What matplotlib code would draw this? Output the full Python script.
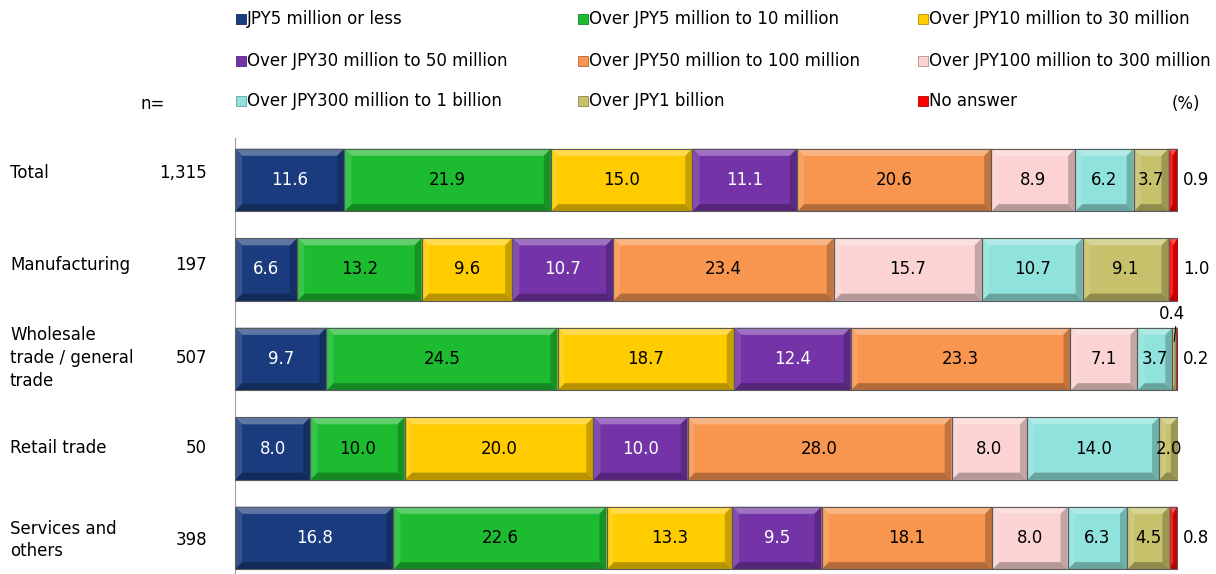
import matplotlib.pyplot as plt
import numpy as np
from matplotlib.colors import to_rgb
from matplotlib.patches import Polygon, Rectangle

# Sales bands (legend order) and respondent groups
bands = [
    "JPY5 million or less",
    "Over JPY5 million to 10 million",
    "Over JPY10 million to 30 million",
    "Over JPY30 million to 50 million",
    "Over JPY50 million to 100 million",
    "Over JPY100 million to 300 million",
    "Over JPY300 million to 1 billion",
    "Over JPY1 billion",
    "No answer",
]
groups = ["Total", "Manufacturing", "Wholesale\ntrade / general\ntrade",
          "Retail trade", "Services and\nothers"]
n_counts = ["1,315", "197", "507", "50", "398"]

total = [11.6, 21.9, 15.0, 11.1, 20.6, 8.9, 6.2, 3.7, 0.9]
manufacturing = [6.6, 13.2, 9.6, 10.7, 23.4, 15.7, 10.7, 9.1, 1.0]
wholesale = [9.7, 24.5, 18.7, 12.4, 23.3, 7.1, 3.7, 0.4, 0.2]
retail = [8.0, 10.0, 20.0, 10.0, 28.0, 8.0, 14.0, 2.0, 0.0]
services = [16.8, 22.6, 13.3, 9.5, 18.1, 8.0, 6.3, 4.5, 0.8]
shares = np.array([total, manufacturing, wholesale, retail, services])

colors = ["#1A3C7E", "#1DBB30", "#FFCC00", "#7434A8", "#F8954F",
          "#FBD3D3", "#90E3DC", "#C6C16A", "#FF0000"]
text_colors = ["white", "black", "black", "white", "black",
               "black", "black", "black", "black"]


def shade(c, f):
    r = np.array(to_rgb(c))
    if f >= 0:
        return tuple(r + (1 - r) * f)
    return tuple(r * (1 + f))


def bevel_bar(ax, left, width, yc, h, color):
    if width <= 0:
        return
    top, bot = yc - h / 2, yc + h / 2
    bx = min(0.75, width / 2)
    by = 0.08
    ax.add_patch(Rectangle((left, top), width, h, facecolor=color,
                           edgecolor="none", zorder=2))
    # top, bottom, left, right bevel faces
    faces = [
        ([(left, top), (left + width, top), (left + width - bx, top + by), (left + bx, top + by)], 0.3),
        ([(left, bot), (left + width, bot), (left + width - bx, bot - by), (left + bx, bot - by)], -0.28),
        ([(left, top), (left + bx, top + by), (left + bx, bot - by), (left, bot)], 0.12),
        ([(left + width, top), (left + width - bx, top + by), (left + width - bx, bot - by), (left + width, bot)], -0.22),
    ]
    for pts, f in faces:
        ax.add_patch(Polygon(pts, closed=True, facecolor=shade(color, f),
                             edgecolor="none", zorder=2))
    ax.add_patch(Rectangle((left, top), width, h, facecolor="none",
                           edgecolor="#5a5a5a", linewidth=0.8, zorder=3))


W, H = 1216, 574
fig = plt.figure(figsize=(W / 100, H / 100), dpi=100)
plt.rcParams["font.family"] = "DejaVu Sans"

# axes placement in pixels
ax_left, ax_right, ax_top = 235, 1178, 138
ax = fig.add_axes([ax_left / W, 0, (ax_right - ax_left) / W, 1 - ax_top / H])
row0, pitch = 180, 89.5
ax.set_xlim(0, 100)
ax.set_ylim((H - row0) / pitch, (ax_top - row0) / pitch)
for s in ["top", "right", "bottom"]:
    ax.spines[s].set_visible(False)
ax.spines["left"].set_color("#a0a0a0")
ax.set_xticks([])
ax.set_yticks([])

bar_h = 0.70
fs = 12
for i, row in enumerate(shares):
    left = 0.0
    for j, v in enumerate(row):
        bevel_bar(ax, left, v, i, bar_h, colors[j])
        if v > 0:
            cx = left + v / 2
            if v >= 1.5:
                ax.text(cx, i, f"{v:.1f}", ha="center", va="center",
                        fontsize=fs, color=text_colors[j], zorder=4)
            elif j == len(row) - 1:
                ax.text(100.5, i, f"{v:.1f}", ha="left", va="center",
                        fontsize=fs, color="black", zorder=4, clip_on=False)
            else:
                # small segment: label above with a leader line
                ax.text(99.4, i - 0.5, f"{v:.1f}", ha="center", va="center",
                        fontsize=fs, color="black", zorder=4)
                ax.plot([cx + 0.15, cx], [i - 0.36, i - 0.2], color="black",
                        linewidth=0.8, zorder=4)
        left += v

# row labels and sample sizes
label_y = [173, 265, 358, 448, 540]
for g, n, ypx in zip(groups, n_counts, label_y):
    fig.text(10 / W, 1 - ypx / H, g, ha="left", va="center", fontsize=fs,
             linespacing=1.35)
    fig.text(207 / W, 1 - ypx / H, n, ha="right", va="center", fontsize=fs)
fig.text(165 / W, 1 - 104 / H, "n=", ha="right", va="center", fontsize=fs)
fig.text(1200 / W, 1 - 104 / H, "(%)", ha="right", va="center", fontsize=fs)

# legend, three columns
col_x = [236, 578, 918]
row_y = [19, 61, 101]
for k, (lab, c) in enumerate(zip(bands, colors)):
    x, y = col_x[k % 3], row_y[k // 3]
    sq = 10
    fig.patches.append(Rectangle((x / W, 1 - (y + sq / 2) / H), sq / W, sq / H,
                                 transform=fig.transFigure, facecolor=c,
                                 edgecolor=shade(c, -0.3), linewidth=0.6))
    fig.text((x + sq + 1) / W, 1 - y / H, lab, ha="left", va="center",
             fontsize=fs)

fig.savefig("out.png", dpi=100)
